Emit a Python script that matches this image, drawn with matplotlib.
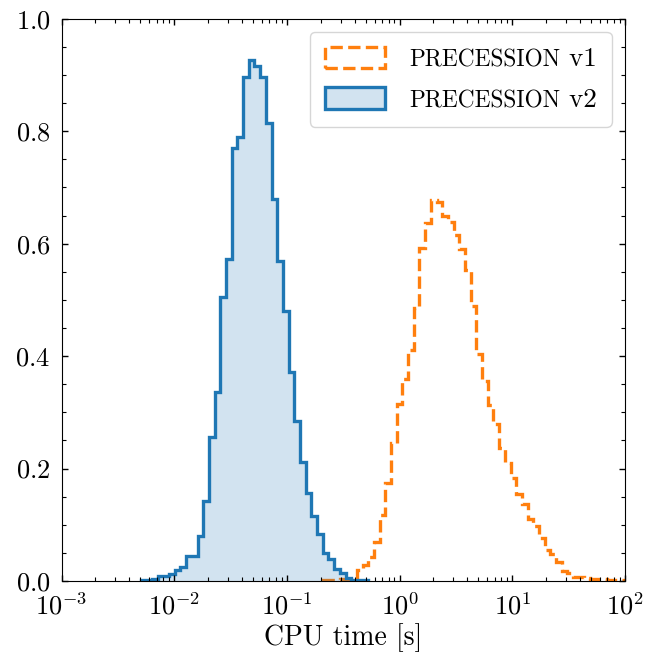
import numpy as np
import matplotlib
matplotlib.use("Agg")
import matplotlib.pyplot as plt
from matplotlib.ticker import AutoMinorLocator, LogLocator, NullFormatter
from matplotlib.offsetbox import TextArea, HPacker
from matplotlib.legend_handler import HandlerPatch

plt.rcParams['font.family'] = 'serif'
plt.rcParams['font.serif'] = ['cmr10']
plt.rcParams['mathtext.fontset'] = 'cm'
plt.rcParams['axes.formatter.use_mathtext'] = True
plt.rcParams['axes.unicode_minus'] = False

# log10 bin edges (shared by both histograms)
log_lo, log_hi, n_edges = -3.005, 1.995, 100

# precession v1 (orange dashed), starting at bin index 46
v1_start = 46
v1_values = [0.001, 0.002, 0.002, 0.003, 0.003, 0.004,
             0.020, 0.028, 0.043, 0.070, 0.117, 0.174, 0.245, 0.315,
             0.359, 0.411, 0.486, 0.592, 0.636, 0.678, 0.675, 0.649,
             0.638, 0.616, 0.591, 0.553, 0.489, 0.404, 0.356, 0.313,
             0.279, 0.236, 0.210, 0.183, 0.155, 0.137, 0.110, 0.097,
             0.076, 0.056, 0.048, 0.033, 0.017, 0.015, 0.008, 0.008,
             0.005, 0.003, 0.003, 0.003, 0.002, 0.002, 0.002]

# precession v2 (blue filled), starting at bin index 14
v2_start = 14
v2_values = [0.001, 0.002, 0.004, 0.009, 0.009, 0.013, 0.019, 0.025,
             0.044, 0.044, 0.080, 0.142, 0.257, 0.336, 0.505, 0.573,
             0.770, 0.789, 0.896, 0.926, 0.916, 0.896, 0.814, 0.680,
             0.570, 0.481, 0.371, 0.285, 0.211, 0.157, 0.116, 0.083,
             0.050, 0.039, 0.021, 0.014, 0.005, 0.002, 0.001, 0.001]

labels = ["PRECESSION", "PRECESSION"]
suffixes = [" v1", " v2"]

edges = 10 ** np.linspace(log_lo, log_hi, n_edges)

fig = plt.figure(figsize=(6.55, 6.56), dpi=100)
ax = fig.add_axes([0.094, 0.1143, 0.860, 0.857])

e1 = edges[v1_start:v1_start + len(v1_values) + 1]
e2 = edges[v2_start:v2_start + len(v2_values) + 1]

s1 = ax.stairs(v1_values, e1, color='#ff7f0e', linestyle='--', linewidth=2.4,
               label=labels[0] + suffixes[0])
s2 = ax.stairs(v2_values, e2, fill=True, facecolor=(0.122, 0.467, 0.706, 0.2),
               edgecolor='#1f77b4', linewidth=2.4, label=labels[1] + suffixes[1])

ax.set_xscale('log')
ax.set_xlim(1e-3, 1e2)
ax.set_ylim(0, 1.0)
ax.set_yticks([0.0, 0.2, 0.4, 0.6, 0.8, 1.0])
ax.yaxis.set_minor_locator(AutoMinorLocator(4))
ax.xaxis.set_minor_locator(LogLocator(base=10, subs=np.arange(2, 10)))
ax.xaxis.set_minor_formatter(NullFormatter())
ax.tick_params(which='both', direction='in', top=True, right=True, labelsize=19)
ax.tick_params(which='major', length=4.5, width=1)
ax.tick_params(which='minor', length=2.6, width=0.8)
ax.tick_params(axis='x', which='major', pad=8)
ax.tick_params(axis='y', which='major', pad=8)
ax.set_xlabel('CPU time [s]', fontsize=20, labelpad=3)

leg = ax.legend(loc='upper right', fontsize=19, handlelength=2.3,
                handleheight=0.87, handletextpad=0.9, labelspacing=0.6,
                borderaxespad=0.5, borderpad=0.55,
                handler_map={s1: HandlerPatch()})
leg.get_frame().set_linewidth(1.0)

# emulate small caps: replace label text boxes
try:
    rows = []
    for col in leg._legend_handle_box.get_children():
        rows.extend(col.get_children())
    for row, lab, suf in zip(rows, labels, suffixes):
        t1 = TextArea(lab, textprops=dict(size=16.8, family='serif'))
        t2 = TextArea(suf, textprops=dict(size=19.5, family='serif'))
        new = HPacker(children=[t1, t2], align='baseline', pad=0, sep=0)
        for obj in (new, t1, t2):
            obj.set_figure(fig)
        t1._text.set_figure(fig)
        t2._text.set_figure(fig)
        row._children[1] = new
except Exception as exc:
    print('smallcaps failed', exc)

fig.savefig('out.png', dpi=100)
